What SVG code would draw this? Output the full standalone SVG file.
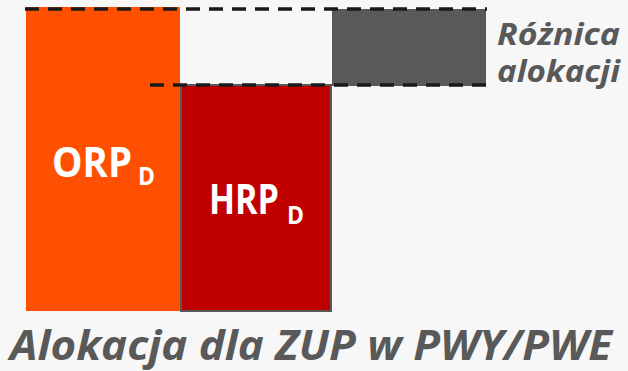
<svg xmlns="http://www.w3.org/2000/svg" width="628" height="371" viewBox="0 0 628 371">
<style>
.lbl{font-family:"Open Sans","DejaVu Sans",sans-serif;font-weight:bold;fill:#ffffff}
.gr{font-family:"Open Sans","DejaVu Sans",sans-serif;font-weight:bold;font-style:italic;fill:#595959}
.dash{stroke:#1a1a1a;stroke-width:3.5;stroke-dasharray:14 9;fill:none}
</style>
<rect width="628" height="371" fill="#f7f7f7"/>
<g id="orp">
<rect x="26" y="7" width="154" height="304" fill="#ff4f00"/>
<text class="lbl" x="52" y="177" font-size="42"><tspan textLength="80" lengthAdjust="spacingAndGlyphs">ORP</tspan><tspan x="138" dy="8" font-size="25" textLength="17" lengthAdjust="spacingAndGlyphs">D</tspan></text>
</g>
<g id="hrp">
<rect x="181" y="85" width="150" height="226" fill="#c00000" stroke="#595959" stroke-width="2"/>
<text class="lbl" x="209" y="214" font-size="42"><tspan textLength="70" lengthAdjust="spacingAndGlyphs">HRP</tspan><tspan x="287" dy="10" font-size="25" textLength="17" lengthAdjust="spacingAndGlyphs">D</tspan></text>
</g>
<g id="diff">
<rect x="332" y="9" width="154" height="77" fill="#595959"/>
<text class="gr" x="497" y="45" font-size="30" textLength="123" lengthAdjust="spacingAndGlyphs">Różnica</text>
<text class="gr" x="497" y="82" font-size="30" textLength="123" lengthAdjust="spacingAndGlyphs">alokacji</text>
</g>
<g id="connectors">
<line class="dash" x1="25" y1="9" x2="487" y2="9"/>
<line class="dash" x1="150" y1="85" x2="487" y2="85"/>
</g>
<text class="gr" x="10" y="360" font-size="42" textLength="602" lengthAdjust="spacingAndGlyphs">Alokacja dla ZUP w PWY/PWE</text>
</svg>
